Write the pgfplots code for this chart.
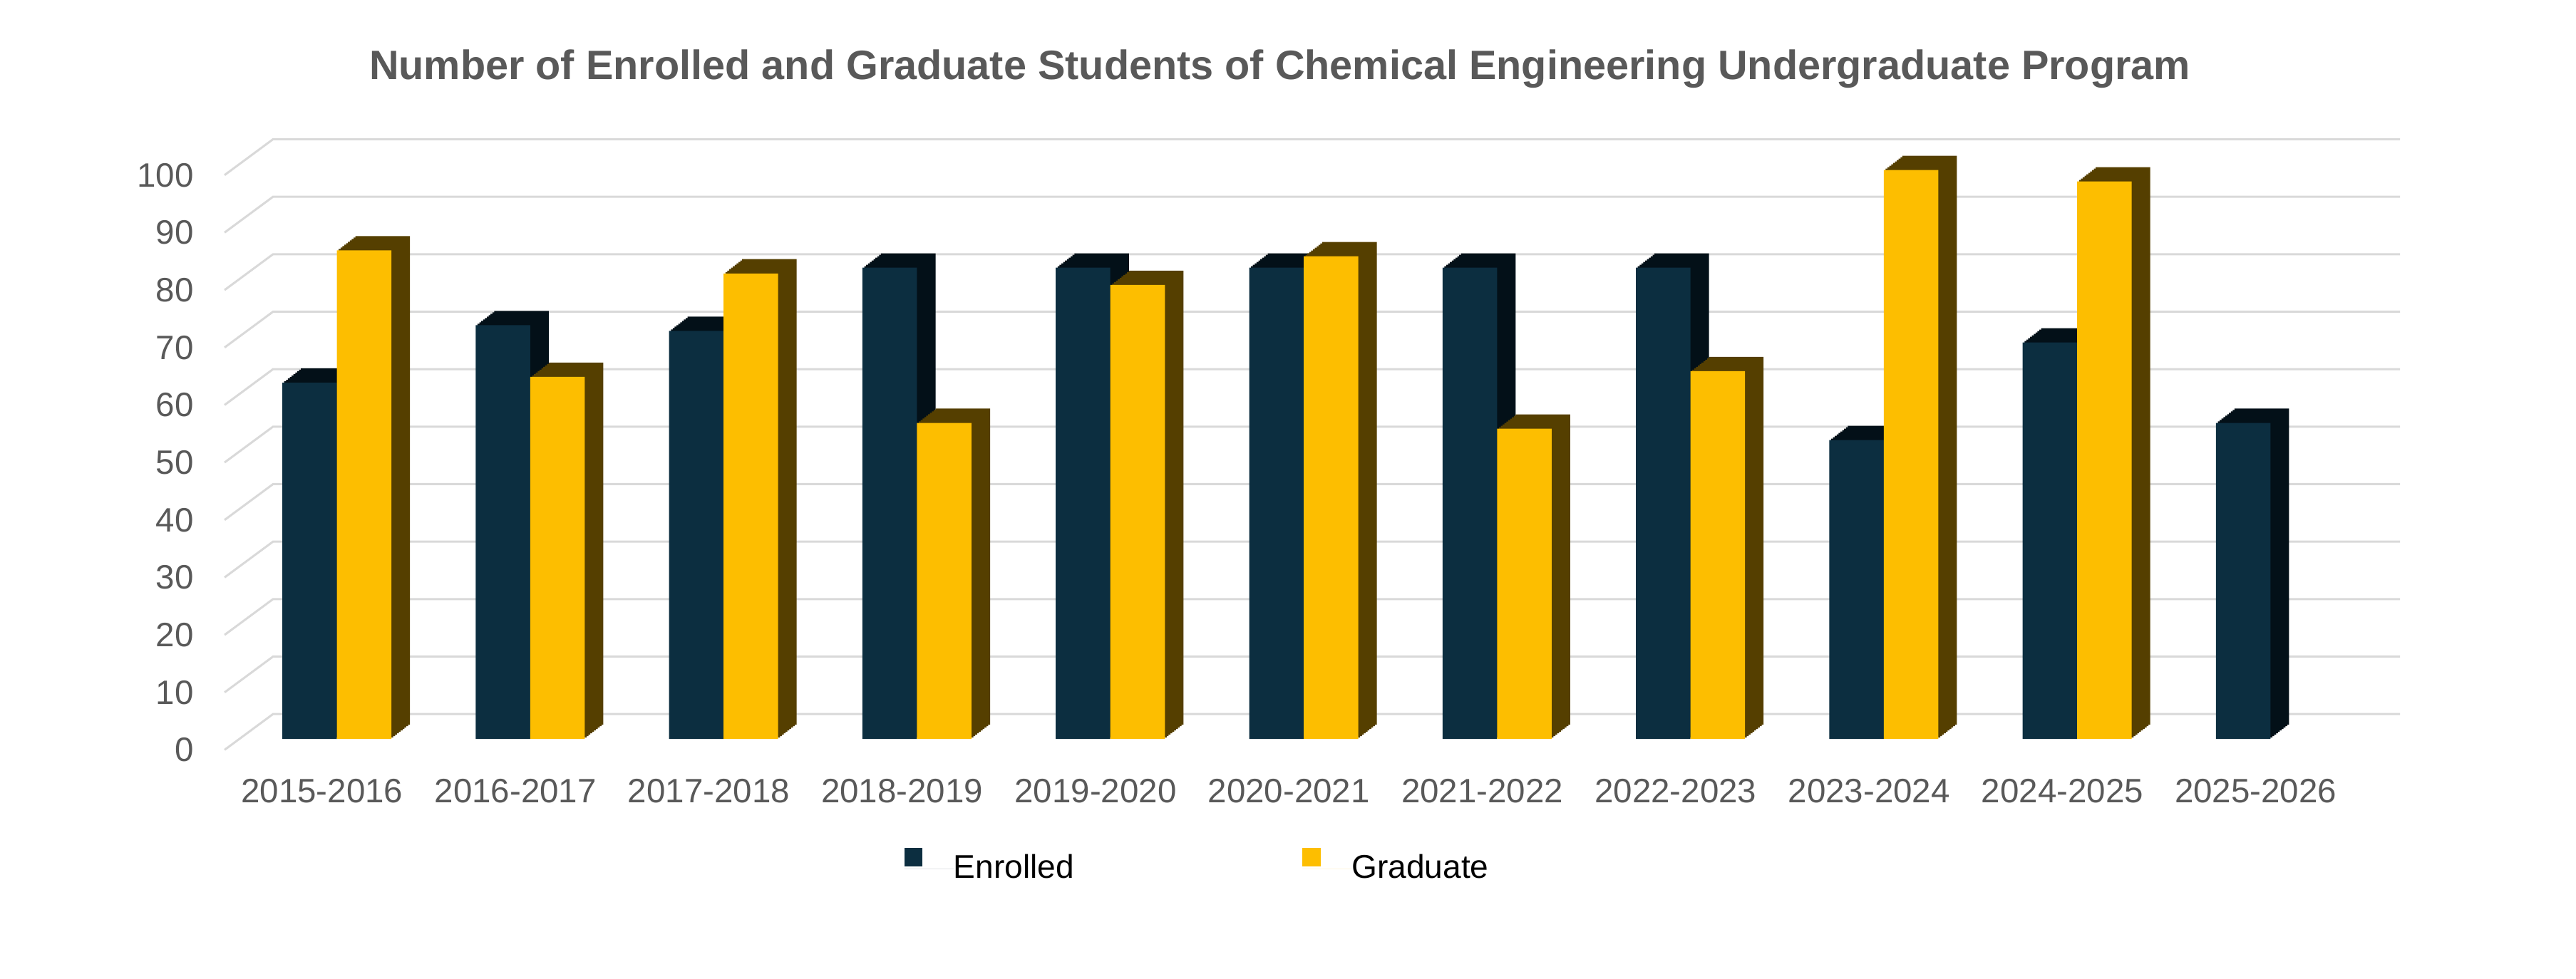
\documentclass[border=0pt]{standalone}
\usepackage{fontspec}
\setmainfont{Liberation Sans}
\usepackage{pgfplots}
\pgfplotsset{compat=1.18}
\usepackage{pgfplotstable}
\definecolor{enr}{RGB}{12,46,64}
\definecolor{enrside}{RGB}{3,16,24}
\definecolor{grd}{RGB}{253,190,0}
\definecolor{grdside}{RGB}{85,63,0}
\definecolor{gridc}{RGB}{217,217,217}
\definecolor{txt}{RGB}{89,89,89}

\pgfplotstableread{
x y
0 62
1 72
2 71
3 82
4 82
5 82
6 82
7 82
8 52
9 69
10 55
}\enr
\pgfplotstableread{
x y
0 85
1 63
2 81
3 55
4 79
5 84
6 54
7 64
8 99
9 97
}\grad

\pgfplotsset{mylegend/.style={legend image code/.code={%
  \fill[##1] (0pt,0.75pt) rectangle (5.5pt,6.45pt);
  \path (0pt,0pt) -- (15pt,0pt);}}}

\begin{document}
\begin{tikzpicture}
\path[use as bounding box] (0,0) rectangle (784pt,298pt);
\begin{axis}[
  at={(73.1pt,73pt)}, anchor=south west,
  scale only axis, width=647.35pt, height=175pt,
  xmin=-0.5, xmax=10.5, ymin=0, ymax=100,
  clip=false,
  axis line style={draw=none},
  major tick length=0pt,
  xtick={0,...,10},
  xticklabels={2015-2016,2016-2017,2017-2018,2018-2019,2019-2020,2020-2021,2021-2022,2022-2023,2023-2024,2024-2025,2025-2026},
  ytick={0,10,...,100},
  /pgf/number format/assume math mode=true,
  ticklabel style={font=\fontsize{10.3}{12}\selectfont, text=txt, inner sep=0pt},
  xticklabel style={anchor=north, yshift=-11.9pt, xshift=-4.5pt},
  yticklabel style={anchor=east, xshift=-13.95pt, yshift=-3.3pt},
  title={Number of Enrolled and Graduate Students of Chemical Engineering Undergraduate Program},
  title style={at={(0.4888,1.1314)}, anchor=center, inner sep=0pt, font=\bfseries\fontsize{12.5}{15}\selectfont, text=txt},
  legend columns=2,
  legend style={draw=none, fill=none, inner sep=0pt, at={(0.3119,-0.22)}, anchor=west,
    font=\fontsize{10}{12}\selectfont, nodes={inner sep=0pt},
    /tikz/every even column/.append style={column sep=69.5pt}},
]
\pgfplotsinvokeforeach{0,10,...,100}{
  \draw[gridc, line width=0.65pt]
    ([xshift=-4.75pt,yshift=-3.3pt]axis cs:-0.5,#1) --
    ([xshift=10pt,yshift=7.6pt]axis cs:-0.5,#1) --
    ([xshift=10pt,yshift=7.6pt]axis cs:10.5,#1);
}
\pgfplotsinvokeforeach{10,9,...,1}{
  \addplot[ybar, bar width=16.6pt, bar shift=-8.3pt, fill=enrside, draw=none, forget plot,
    xshift=#1*0.565pt, yshift=#1*0.435pt] table[x=x,y=y]{\enr};
}
\addplot[ybar, bar width=16.6pt, bar shift=-8.3pt, fill=enr, draw=none, mylegend] table[x=x,y=y]{\enr};
\addlegendentry{Enrolled}
\pgfplotsinvokeforeach{10,9,...,1}{
  \addplot[ybar, bar width=16.6pt, bar shift=8.3pt, fill=grdside, draw=none, forget plot,
    xshift=#1*0.565pt, yshift=#1*0.435pt] table[x=x,y=y]{\grad};
}
\addplot[ybar, bar width=16.6pt, bar shift=8.3pt, fill=grd, draw=none, mylegend] table[x=x,y=y]{\grad};
\addlegendentry{Graduate}
\end{axis}
\end{tikzpicture}
\end{document}
